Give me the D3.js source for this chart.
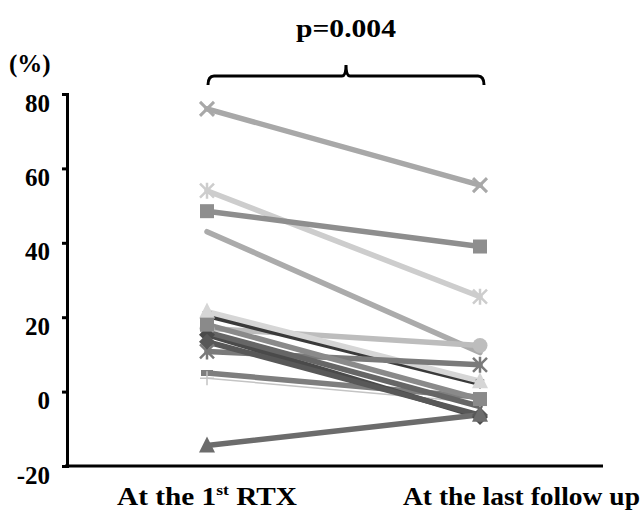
<!DOCTYPE html>
<html>
<head>
<meta charset="utf-8">
<script src="https://cdn.jsdelivr.net/npm/d3@7"></script>
<style>
  body { margin: 0; background: #fff; }
  text { font-family: "Liberation Serif", "Times New Roman", serif; font-weight: bold; }
</style>
</head>
<body>
<div id="chart"></div>
<script>
// paired values (%), first RTX vs last follow up
var timepoints = ["At the 1st RTX", "At the last follow up"];
var firstRtx  = [76, 54, 48.5, 43, 17, 20.5, 21.5, 10.8, 5, 3.6, 15.3, 13.4, 18, 16, -14.5];
var lastFollow = [55.5, 25.5, 39, 10.5, 12.4, 2.2, 2.8, 7.2, -1.5, -3, -6.8, -6.3, -2, -4, -6.2];
var markers = ["x", "asterisk", "square", "none", "circle", "star", "triangle", "asterisk", "dash", "plus", "diamond", "diamond", "square", "none", "triangle"];
var colors = ["#a8a8a8", "#cdcdcd", "#8e8e8e", "#ababab", "#bdbdbd", "#3a3a3a", "#d6d6d6", "#7a7a7a", "#7e7e7e", "#c4c4c4", "#4a4a4a", "#585858", "#8a8a8a", "#666666", "#6c6c6c"];
var yTicks = [-20, 0, 20, 40, 60, 80];

var svg = d3.select("#chart").append("svg")
    .attr("width", 643)
    .attr("height", 512);

var y = d3.scaleLinear().domain([-20, 80]).range([466, 94]);
var x = d3.scalePoint().domain(timepoints).range([207, 480]);

// y axis
var yAxis = svg.append("g")
    .attr("transform", "translate(67,0)")
    .call(d3.axisLeft(y).tickValues(yTicks).tickSize(5).tickPadding(12)
        .tickFormat(function(d){ return String(d); }));
yAxis.select(".domain").attr("stroke", "#000").attr("stroke-width", 3);
yAxis.selectAll(".tick line").attr("stroke", "#000").attr("stroke-width", 3);
yAxis.selectAll(".tick text")
    .attr("dy", "0.32em")
    .attr("y", 9)
    .attr("font-size", 25)
    .attr("fill", "#000")
    .style("font-family", "'Liberation Serif', serif")
    .style("font-weight", "bold");

// x axis baseline
svg.append("line")
    .attr("x1", 65).attr("x2", 603)
    .attr("y1", y(-20)).attr("y2", y(-20))
    .attr("stroke", "#000").attr("stroke-width", 3);

svg.append("text").attr("x", 9).attr("y", 72).attr("font-size", 25).text("(%)");

// lines
var pairs = firstRtx.map(function(v, i) {
    return {a: v, b: lastFollow[i], m: markers[i], c: colors[i], i: i};
});

svg.selectAll("line.pair")
    .data(pairs)
    .enter()
    .append("line")
    .attr("class", "pair")
    .attr("x1", x(timepoints[0]))
    .attr("x2", x(timepoints[1]))
    .attr("y1", function(d){ return y(d.a); })
    .attr("y2", function(d){ return y(d.b); })
    .attr("stroke", function(d){ return d.c; })
    .attr("stroke-width", function(d){ return d.m == "plus" ? 1.5 : 5.5; })
    .attr("stroke-linecap", "round");

function drawMarker(g, type, color) {
    var s = 7;
    if (type == "square") {
        g.append("rect").attr("x", -s).attr("y", -s).attr("width", 2*s).attr("height", 2*s).attr("fill", color);
    } else if (type == "circle") {
        g.append("circle").attr("r", 7.5).attr("fill", color);
    } else if (type == "triangle") {
        g.append("path").attr("d", "M0,-9L8,7L-8,7Z").attr("fill", color);
    } else if (type == "diamond") {
        g.append("path").attr("d", "M0,-8L8,0L0,8L-8,0Z").attr("fill", color);
    } else if (type == "x") {
        g.append("path").attr("d", "M-7,-7L7,7M-7,7L7,-7").attr("stroke", color).attr("stroke-width", 3);
    } else if (type == "asterisk") {
        g.append("path").attr("d", "M-7,-7L7,7M-7,7L7,-7M0,-8L0,8").attr("stroke", color).attr("stroke-width", 2.5);
    } else if (type == "star") {
        g.append("path").attr("d", "M-4,-4L4,4M-4,4L4,-4M0,-5L0,5").attr("stroke", color).attr("stroke-width", 1.5);
    } else if (type == "dash") {
        g.append("path").attr("d", "M-6,0L6,0").attr("stroke", color).attr("stroke-width", 6);
    } else if (type == "plus") {
        g.append("path").attr("d", "M-7,0L7,0M0,-7L0,7").attr("stroke", color).attr("stroke-width", 1.5);
    }
}

pairs.forEach(function(d) {
    [d.a, d.b].forEach(function(v, k) {
        var g = svg.append("g")
            .attr("transform", "translate(" + x(timepoints[k]) + "," + y(v) + ")");
        drawMarker(g, d.m, d.c);
    });
});

// significance bracket
var bx1 = x(timepoints[0]) + 1, bx2 = x(timepoints[1]) + 4, mid = (bx1 + bx2) / 2;
svg.append("path")
    .attr("d", "M" + bx1 + ",85 Q" + bx1 + ",76 " + (bx1 + 6) + ",76 L" + (mid - 4) + ",76 Q" + mid + ",76 " + mid + ",65 Q" + mid + ",76 " + (mid + 4) + ",76 L" + (bx2 - 6) + ",76 Q" + bx2 + ",76 " + bx2 + ",85")
    .attr("fill", "none").attr("stroke", "#000").attr("stroke-width", 3);
svg.append("text").attr("x", mid).attr("y", 37).attr("text-anchor", "middle").attr("font-size", 26)
    .attr("textLength", 100).attr("lengthAdjust", "spacingAndGlyphs").text("p=0.004");

// x labels
var lab1 = svg.append("text").attr("x", 117).attr("y", 505).attr("font-size", 25)
    .attr("textLength", 180).attr("lengthAdjust", "spacingAndGlyphs");
lab1.append("tspan").text("At the 1");
lab1.append("tspan").attr("font-size", 15).attr("dy", -10).text("st");
lab1.append("tspan").attr("dy", 10).text(" RTX");

svg.append("text").attr("x", 403).attr("y", 505).attr("font-size", 25)
    .attr("textLength", 237).attr("lengthAdjust", "spacingAndGlyphs").text(timepoints[1]);
</script>
</body>
</html>
